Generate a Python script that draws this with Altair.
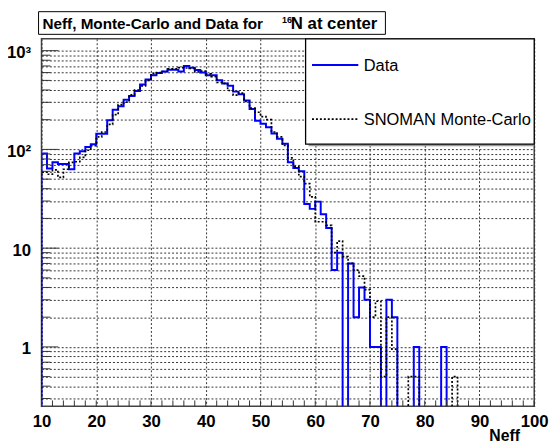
import altair as alt
import pandas as pd

# ---- data (bins of width 1, from Neff=10 to 100) ----
bin_low = list(range(10, 100))

data_counts = [
    91, 64, 74, 71, 71, 63, 91, 96, 106, 113,          # 10-19
    144, 144, 197, 252, 273, 318, 348, 390, 455, 510,  # 20-29
    565, 595, 615, 640, 640, 616, 700, 670, 638, 600,  # 30-39
    565, 565, 503, 466, 442, 385, 362, 313, 256, 195,  # 40-49
    182, 168, 145, 128, 114, 74, 65, 60, 28, 25,       # 50-59
    29.6, 22, 16, 6, 9, 0, 7, 2, 4, 3,                 # 60-69
    1, 1, 0, 3, 2, 0, 0, 0, 1, 0,                      # 70-79
    0, 0, 0, 1, 0, 0, 0, 0, 0, 0,                      # 80-89
    0, 0, 0, 0, 0, 0, 0, 0, 0, 0,                      # 90-99
]

mc_counts = [
    59, 56, 62, 52, 63, 74, 75, 83, 98, 109,           # 10-19
    134, 150, 179, 225, 284, 301, 357, 400, 440, 500,  # 20-29
    586, 600, 615, 655, 655, 673, 668, 660, 609, 622,  # 30-39
    582, 547, 476, 466, 395, 355, 372, 306, 262, 238,  # 40-49
    215, 200, 150, 134, 110, 82, 67, 53, 45, 33,       # 50-59
    18.5, 18.5, 17, 9, 11.8, 8.2, 7, 6, 5.2, 3.8,      # 60-69
    2, 2.9, 0.5, 2, 0.95, 0, 0, 0.5, 0.5, 0,           # 70-79
    0, 0, 0, 0, 0, 0.5, 0, 0, 0, 0,                    # 80-89
    0, 0, 0, 0, 0, 0, 0, 0, 0, 0,                      # 90-99
]

series_names = ["Data", "SNOMAN Monte-Carlo"]
title_main = "Neff, Monte-Carlo and Data for"
title_sup = "16"
title_rest = "N at center"
x_title = "Neff"

x_label_values = list(range(10, 101, 10))
x_minor_ticks = list(range(10, 101, 2))
y_decades = [1, 10, 100, 1000]
y_minor = [m * 10 ** e for e in range(-1, 3) for m in range(2, 10) if m * 10 ** e >= 0.25]

FLOOR = 0.02  # empty bins are drawn down to below the axis (clipped)


def step_frame(vals):
    xs = [bin_low[0]] + bin_low + [100]
    ys = [FLOOR] + [v if v > 0 else FLOOR for v in vals] + [FLOOR]
    return pd.DataFrame({"x": xs, "v": ys, "i": list(range(len(xs)))})


W, H = 500, 373
FONT = "Liberation Sans"

xscale = alt.Scale(domain=[10, 100], nice=False, zero=False)
yscale = alt.Scale(type="log", domain=[0.25, 1320], nice=False)

xaxis = alt.Axis(
    values=x_label_values, labelFont=FONT, labelFontWeight="bold", labelFontSize=17,
    labelColor="black", labelPadding=7, labelOverlap=False, labelFlush=False,
    ticks=False, domain=False, grid=True, gridDash=[2, 2], gridColor="#333",
    gridWidth=1, title=x_title, titleFont=FONT, titleFontWeight="bold",
    titleFontSize=16, titleColor="black", titleAlign="right", titleAnchor="end",
    titleBaseline="alphabetic", titleX=W - 15, titleY=35,
)
yaxis = alt.Axis(
    values=y_minor + y_decades,
    labelExpr="datum.value == 1000 ? '10³' : datum.value == 100 ? '10²' : datum.value == 10 ? '10' : datum.value == 1 ? '1' : ''",
    labelFont=FONT, labelFontWeight="bold", labelFontSize=17, labelColor="black",
    labelPadding=11, labelOverlap=False, labelOffset=2, ticks=False, domain=False,
    grid=True, gridDash=[2, 2], gridColor="#333", gridWidth=1, title=None,
)

data_line = alt.Chart(step_frame(data_counts)).mark_line(
    interpolate="step-after", color="#0000ff", strokeWidth=2, clip=True
).encode(
    x=alt.X("x:Q", scale=xscale, axis=xaxis),
    y=alt.Y("v:Q", scale=yscale, axis=yaxis),
    order="i:Q",
)

mc_line = alt.Chart(step_frame(mc_counts)).mark_line(
    interpolate="step-after", color="black", strokeWidth=1.7, strokeDash=[2, 2], clip=True
).encode(
    x=alt.X("x:Q", scale=xscale, axis=xaxis),
    y=alt.Y("v:Q", scale=yscale, axis=yaxis),
    order="i:Q",
)

# inner ticks (ROOT style)
xt = pd.DataFrame({"x": x_minor_ticks})
x_ticks = alt.Chart(xt).mark_rule(color="#333", strokeWidth=1).encode(
    x=alt.X("x:Q", scale=xscale, axis=xaxis), y=alt.value(H), y2=alt.value(H - 6)
)
yt_minor = alt.Chart(pd.DataFrame({"v": y_minor})).mark_rule(color="#333", strokeWidth=1).encode(
    y=alt.Y("v:Q", scale=yscale, axis=yaxis), x=alt.value(0), x2=alt.value(9)
)
yt_major = alt.Chart(pd.DataFrame({"v": y_decades})).mark_rule(color="#333", strokeWidth=1).encode(
    y=alt.Y("v:Q", scale=yscale, axis=yaxis), x=alt.value(0), x2=alt.value(17)
)

one = pd.DataFrame({"a": [0]})

# title box
title_box = alt.Chart(one).mark_rect(fill="white", stroke="black", strokeWidth=1).encode(
    x=alt.value(-3), x2=alt.value(349), y=alt.value(-27.5), y2=alt.value(-4.5)
)
t1 = alt.Chart(one).mark_text(font=FONT, fontWeight="bold", fontSize=15.5, align="left",
                              baseline="alphabetic", color="black").encode(
    x=alt.value(1), y=alt.value(-9.5), text=alt.value(title_main))
t2 = alt.Chart(one).mark_text(font=FONT, fontWeight="bold", fontSize=9, align="left",
                              baseline="alphabetic", color="black").encode(
    x=alt.value(244), y=alt.value(-16.5), text=alt.value(title_sup))
t3 = alt.Chart(one).mark_text(font=FONT, fontWeight="bold", fontSize=17, align="left",
                              baseline="alphabetic", color="black").encode(
    x=alt.value(253), y=alt.value(-9.5), text=alt.value(title_rest))

# legend box
leg_shadow = alt.Chart(one).mark_rect(fill="#999").encode(
    x=alt.value(271), x2=alt.value(W), y=alt.value(105), y2=alt.value(109))
leg_box = alt.Chart(one).mark_rect(fill="white", stroke="black", strokeWidth=1.3).encode(
    x=alt.value(268), x2=alt.value(W), y=alt.value(0), y2=alt.value(107))
leg_l1 = alt.Chart(one).mark_rule(color="#0000ff", strokeWidth=2).encode(
    x=alt.value(274.5), x2=alt.value(321.5), y=alt.value(26.5))
leg_l2 = alt.Chart(one).mark_rule(color="black", strokeWidth=1.7, strokeDash=[2, 2]).encode(
    x=alt.value(274.5), x2=alt.value(321.5), y=alt.value(81.5))
leg_t1 = alt.Chart(one).mark_text(font=FONT, fontSize=16.7, align="left", baseline="middle",
                                  color="black").encode(
    x=alt.value(327), y=alt.value(27.5), text=alt.value(series_names[0]))
leg_t2 = alt.Chart(one).mark_text(font=FONT, fontSize=16.7, align="left", baseline="middle",
                                  color="black").encode(
    x=alt.value(327), y=alt.value(82), text=alt.value(series_names[1]))

chart = alt.layer(
    data_line, mc_line, x_ticks, yt_minor, yt_major,
    title_box, t1, t2, t3,
    leg_shadow, leg_box, leg_l1, leg_l2, leg_t1, leg_t2,
).properties(
    width=W, height=H,
    padding={"left": 34, "top": 28, "right": 15, "bottom": 36},
    autosize=alt.AutoSizeParams(type="none"),
    background="white",
).configure_view(stroke="#444", strokeWidth=1.5)

chart.save("out.html", embed_options={"renderer": "svg", "actions": False})
